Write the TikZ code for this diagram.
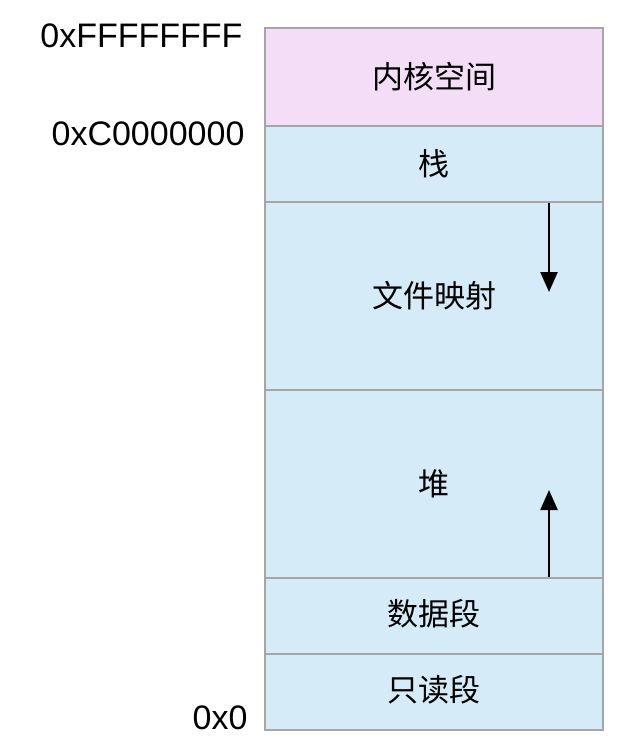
\documentclass[tikz,border=0pt]{standalone}
\usepackage{fontspec}
\setmainfont{Liberation Sans}
\newfontfamily\cjk{Noto Sans CJK SC}
\usetikzlibrary{arrows.meta}
\begin{document}
\begin{tikzpicture}[x=1pt,y=-1pt,
  seg/.style={draw=gray!70,line width=1.4pt},
  lbl/.style={font=\cjk\fontsize{31}{36}\selectfont},
  addr/.style={anchor=east,font=\fontsize{34}{38}\selectfont},
  growarrow/.style={-{Triangle[length=20pt,width=17pt]},line width=2.4pt}]
\useasboundingbox (0,0) rectangle (640,746);
\fill[white] (0,0) rectangle (640,746);
\definecolor{pinkseg}{HTML}{F4DDF6}
\definecolor{blueseg}{HTML}{D5EBF8}
\path[seg,fill=pinkseg] (265,28) rectangle (603,126);
\path[seg,fill=blueseg] (265,126) rectangle (603,202);
\path[seg,fill=blueseg] (265,202) rectangle (603,390);
\path[seg,fill=blueseg] (265,390) rectangle (603,578);
\path[seg,fill=blueseg] (265,578) rectangle (603,654);
\path[seg,fill=blueseg] (265,654) rectangle (603,730);
\node[lbl] (k) at (434,77) {内核空间};
\node[lbl] (s) at (434,164) {栈};
\node[lbl] (m) at (434,296) {文件映射};
\node[lbl] (h) at (434,484) {堆};
\node[lbl] (d) at (434,614) {数据段};
\node[lbl] (r) at (434,690) {只读段};
\node[addr] (a1) at (246,36) {0xFFFFFFFF};
\node[addr] (a2) at (248,134) {0xC0000000};
\node[addr] (a3) at (251,718) {0x0};
\coordinate (d1) at (549,203);
\coordinate (d2) at (549,292);
\coordinate (u1) at (549,577);
\coordinate (u2) at (549,490);
\draw[growarrow] (d1) -- (d2);
\draw[growarrow] (u1) -- (u2);
\end{tikzpicture}
\end{document}
